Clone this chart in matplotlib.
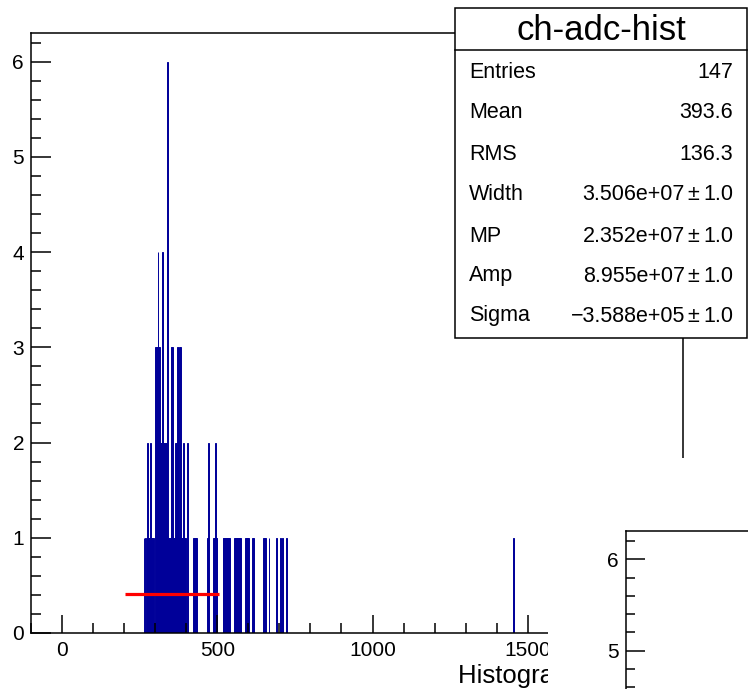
import matplotlib
matplotlib.use('Agg')
import matplotlib.pyplot as plt
from matplotlib.ticker import MultipleLocator, NullLocator
from matplotlib.patches import Rectangle
from matplotlib.lines import Line2D

W, H = 748, 689
plt.rcParams['font.family'] = ['Liberation Sans', 'DejaVu Sans']

# ---------------- data ----------------
bin_width = 2.5
bin_left = [262.5, 267.5,
            272.5, 275, 277.5, 280, 282.5, 285, 287.5, 290, 292.5,
            300, 302.5, 305, 307.5, 310, 312.5, 315,
            317.5, 320, 322.5, 325, 327.5, 330, 332.5, 335, 337.5,
            340, 342.5, 345, 347.5,
            350, 352.5, 355,
            357.5, 360, 362.5,
            365, 367.5,
            370, 372.5,
            375,
            377.5, 380,
            382.5, 385, 387.5,
            390, 392.5, 397.5, 402.5,
            422.5, 425, 427.5, 430, 432.5,
            467.5, 470,
            487.5, 490, 492.5, 495, 497.5,
            517.5, 520, 522.5, 525, 527.5, 530, 532.5, 535, 537.5,
            555, 557.5, 560, 562.5, 565, 567.5, 570, 572.5,
            590, 592.5, 595, 600,
            612.5, 615,
            647.5, 650, 652.5, 655,
            665, 690, 702.5, 710, 722.5,
            1452.5]
bin_counts = [1, 1,
              1, 2, 1, 1, 2, 1, 1, 1, 1,
              3, 3, 3, 4, 3, 3, 2,
              2, 2, 4, 2, 2, 2, 2, 2, 6,
              1, 1, 1, 1,
              3, 3, 3,
              1, 1, 1,
              2, 2,
              3, 3,
              1,
              3, 3,
              1, 1, 1,
              2, 1, 1, 2,
              1, 1, 1, 1, 1,
              1, 2,
              1, 1, 2, 1, 1,
              1, 1, 1, 1, 1, 1, 1, 1, 1,
              1, 1, 1, 1, 1, 1, 1, 1,
              1, 1, 1, 1,
              1, 1,
              1, 1, 1, 1,
              1, 1, 1, 1, 1,
              1]
fit_x = [202, 505]
fit_y = [0.41, 0.41]

stats_title = 'ch-adc-hist'
stat_names = ['Entries', 'Mean', 'RMS', 'Width', 'MP', 'Amp', 'Sigma']
stat_values = ['147', '393.6', '136.3', '3.506e+07', '2.352e+07', '8.955e+07', '\u22123.588e+05']
stat_errors = ['', '', '', '1.0', '1.0', '1.0', '1.0']
x_title = 'Histogram of ADC counts'

# ---------------- figure ----------------
fig = plt.figure(figsize=(W / 100, H / 100), dpi=100)
fig.patch.set_facecolor('white')


def fx(px):
    return px / W


def fy(py):
    return 1 - py / H


def style_axes(a, xlen_maj, ylen_maj):
    for s in a.spines.values():
        s.set_linewidth(1.1)
    a.tick_params(which='both', direction='in', top=False, right=False, width=1.1,
                  labelsize=15, colors='black')
    a.tick_params(axis='x', which='major', length=xlen_maj, pad=6)
    a.tick_params(axis='y', which='major', length=ylen_maj, pad=5)
    a.tick_params(axis='both', which='minor', length=7)


# main pad
ax = fig.add_axes([fx(31), fy(633), fx(683) - fx(31), fy(33) - fy(633)], zorder=1)
ax.bar(bin_left, bin_counts, width=bin_width, align='edge', color='#000099',
       edgecolor='#000099', linewidth=0.7)
ax.plot(fit_x, fit_y, color='#ff0000', lw=2.3, solid_capstyle='butt')
ax.set_xlim(-100, 2000)
ax.set_ylim(0, 6.3)
ax.xaxis.set_major_locator(MultipleLocator(500))
ax.xaxis.set_minor_locator(MultipleLocator(100))
ax.yaxis.set_major_locator(MultipleLocator(1))
ax.yaxis.set_minor_locator(MultipleLocator(0.2))
style_axes(ax, 13, 14.5)
ax.xaxis.set_major_formatter(matplotlib.ticker.FuncFormatter(lambda v, p: f'{v:.0f}'))
ax.yaxis.set_major_formatter(matplotlib.ticker.FuncFormatter(lambda v, p: f'{v:.0f}'))

# overlay for annotations in pixel coordinates
ov = fig.add_axes([0, 0, 1, 1], zorder=2)
ov.set_xlim(0, W)
ov.set_ylim(H, 0)
ov.axis('off')
ov.patch.set_alpha(0)
ov.text(458, 676, x_title, fontsize=18.5, ha='left', va='center')
# covering pad (bottom-right)
ov.add_patch(Rectangle((548, 458), W - 548 + 5, H - 458 + 5, facecolor='white',
                       edgecolor='none', zorder=5))

# inset pad (only its top-left corner is visible)
ax2 = fig.add_axes([fx(626), 0, fx(1000) - fx(626), fy(531)], zorder=3)
ax2.set_xlim(0, 1)
ax2.set_ylim(4.58, 6.31)
ax2.xaxis.set_major_locator(NullLocator())
ax2.yaxis.set_major_locator(MultipleLocator(1))
ax2.yaxis.set_minor_locator(MultipleLocator(0.2))
style_axes(ax2, 13, 13.7)
ax2.spines['bottom'].set_visible(False)
ax2.spines['right'].set_visible(False)
ax2.tick_params(axis='y', which='minor', length=6.7)
ax2.yaxis.set_major_formatter(matplotlib.ticker.FuncFormatter(lambda v, p: f'{v:.0f}'))

# stats box
st = fig.add_axes([0, 0, 1, 1], zorder=4)
st.set_xlim(0, W)
st.set_ylim(H, 0)
st.axis('off')
st.patch.set_alpha(0)
st.add_patch(Rectangle((455, 8), 292, 330, facecolor='white', edgecolor='black', linewidth=1.1))
st.add_line(Line2D([455, 747], [50, 50], color='black', linewidth=1.1))
st.text(601, 30, stats_title, fontsize=25, ha='center', va='center')
row_y = [72, 113, 154, 195, 236, 276, 316]
for name, val, err, yy in zip(stat_names, stat_values, stat_errors, row_y):
    st.text(469, yy, name, fontsize=15.5, ha='left', va='center')
    if err:
        st.text(685, yy, val, fontsize=15.5, ha='right', va='center')
        st.text(693, yy, '\u00b1', fontsize=15.5, ha='center', va='center')
        st.text(733, yy, err, fontsize=15.5, ha='right', va='center')
    else:
        st.text(733, yy, val, fontsize=15.5, ha='right', va='center')

fig.savefig('out.png', dpi=100)
